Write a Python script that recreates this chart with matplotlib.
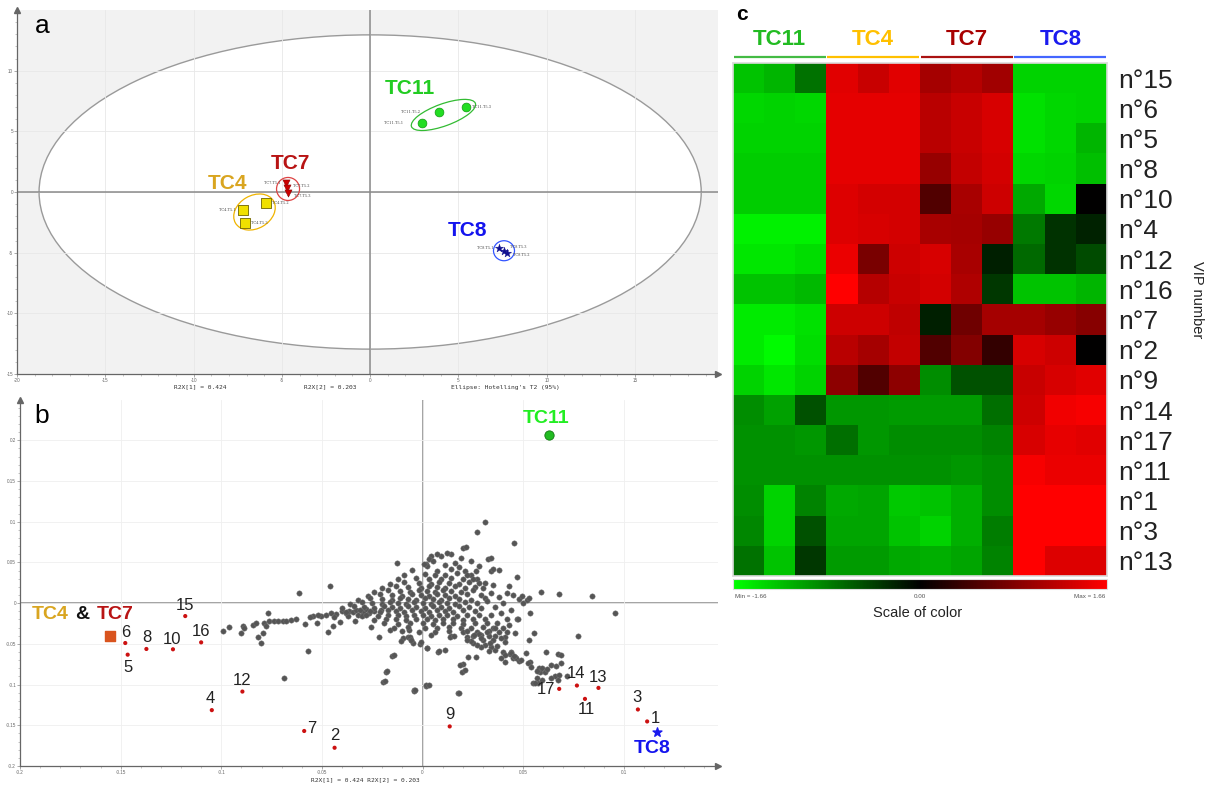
import numpy as np
import matplotlib
matplotlib.use("Agg")
import matplotlib.pyplot as plt
import matplotlib.transforms as mtransforms
from matplotlib.patches import Ellipse
from matplotlib.colors import LinearSegmentedColormap, Normalize
from matplotlib.cm import ScalarMappable

plt.rcParams['font.family'] = ['Liberation Sans', 'DejaVu Sans']

W, H = 1212, 787

# ---------------- panel a : PCA scores ----------------
tc11_x = [2.95, 3.90, 5.45]
tc11_y = [5.71, 6.60, 6.98]
tc4_x = [-7.20, -5.87, -7.09]
tc4_y = [-1.48, -0.93, -2.53]
tc7_x = [-4.76, -4.70, -4.63]
tc7_y = [0.71, 0.30, -0.11]
tc8_x = [7.30, 7.58, 7.76]
tc8_y = [-4.64, -4.84, -5.00]
tc11_names = ['TC11.T5.1', 'TC11.T5.2', 'TC11.T5.3']
tc4_names = ['TC4.T5.1', 'TC4.T5.2', 'TC4.T5.3']
tc7_names = ['TC7.T5.1', 'TC7.T5.2', 'TC7.T5.3']
tc8_names = ['TC8.T5.1', 'TC8.T5.3', 'TC8.T5.2']
hotelling_rx, hotelling_ry = 18.75, 12.95

# ---------------- panel b : loadings ----------------
vip_ids = list(range(1, 18))
vip_x = [0.1116, -0.0437, 0.1070, -0.1047, -0.1465, -0.1477, -0.0588, -0.1372, 0.0135,
         -0.1240, 0.0807, -0.0895, 0.0874, 0.0767, -0.1179, -0.1100, 0.0679]
vip_y = [-0.1453, -0.1776, -0.1306, -0.1314, -0.0633, -0.0490, -0.1570, -0.0563, -0.1514,
         -0.0567, -0.1176, -0.1086, -0.1041, -0.1012, -0.0159, -0.0482, -0.1053]
grp_tc11_b = (0.0628, 0.207)
grp_tc8_b = (0.1165, -0.158)
grp_tc47_b = (-0.1553, -0.0408)

cloud_xy = [
    # left arm
    (-0.0993, -0.0340), (-0.0964, -0.0299), (-0.0902, -0.0365), (-0.0894, -0.0283), (-0.0886, -0.0311),
    (-0.0844, -0.0270), (-0.0827, -0.0250), (-0.0819, -0.0414), (-0.0803, -0.0495), (-0.0794, -0.0365),
    (-0.0786, -0.0250), (-0.0778, -0.0283), (-0.0770, -0.0127), (-0.0761, -0.0221), (-0.0736, -0.0221),
    (-0.0720, -0.0221), (-0.0695, -0.0221), (-0.0678, -0.0221), (-0.0653, -0.0209), (-0.0628, -0.0201),
    (-0.0612, 0.0127), (-0.0582, -0.0262), (-0.0571, -0.0590), (-0.0546, -0.0160), (-0.0524, -0.0242),
    (-0.0504, -0.0160), (-0.0479, -0.0147), (-0.0469, -0.0352), (-0.0446, -0.0283), (-0.0429, -0.0135),
    (-0.0410, -0.0229), (-0.0380, -0.0127), (-0.0363, -0.0094), (-0.0347, -0.0106), (-0.0338, -0.0217),
    (-0.0330, -0.0086), (-0.0297, -0.0106), (-0.0255, -0.0291), (-0.0239, -0.0094), (-0.0214, -0.0414),
    (-0.0206, -0.0086), (-0.0164, -0.0332), (-0.0151, -0.0647), (-0.0098, -0.0434), (-0.0073, -0.0414),
    (-0.0065, -0.0332), (-0.0056, -0.0455), (-0.0045, -0.0495), (-0.0015, -0.0508), (-0.0007, -0.0475),
    (0.0023, -0.0557), (0.0076, -0.0598), (-0.0184, -0.0844), (-0.0197, -0.0967), (-0.0040, -0.1069),
    (0.0018, -0.1016), (-0.0690, -0.0925), (-0.0458, 0.0216), (-0.0560, -0.0170), (-0.0520, -0.0140),
    (-0.0455, -0.0125), (-0.0400, -0.0100), (-0.0440, -0.0170), (-0.0370, -0.0160), (-0.0320, -0.0140),
    (-0.0280, -0.0070), (-0.0300, -0.0160), (-0.0265, -0.0120), (-0.0128, 0.0490), (0.0016, 0.0480),
    # core
    (0.002, 0.046), (0.011, 0.047), (0.018, 0.044),
    (-0.005, 0.041), (0.007, 0.039), (0.014, 0.042), (0.021, 0.040),
    (-0.009, 0.034), (0.001, 0.036), (0.006, 0.034), (0.011, 0.035), (0.017, 0.037), (0.024, 0.034),
    (-0.012, 0.029), (-0.003, 0.031), (0.003, 0.030), (0.009, 0.029), (0.014, 0.031), (0.020, 0.030), (0.027, 0.029),
    (-0.016, 0.024), (-0.009, 0.026), (-0.002, 0.025), (0.004, 0.024), (0.008, 0.026), (0.013, 0.025),
    (0.018, 0.024), (0.023, 0.026),
    (-0.020, 0.019), (-0.013, 0.021), (-0.007, 0.020), (-0.001, 0.019), (0.003, 0.021), (0.007, 0.020),
    (0.011, 0.019), (0.016, 0.021), (0.021, 0.019), (0.026, 0.020),
    (-0.024, 0.014), (-0.017, 0.016), (-0.011, 0.015), (-0.006, 0.014), (-0.002, 0.016), (0.002, 0.015),
    (0.006, 0.014), (0.010, 0.016), (0.014, 0.015), (0.019, 0.014), (0.025, 0.016),
    (-0.027, 0.009), (-0.021, 0.011), (-0.015, 0.010), (-0.010, 0.009), (-0.005, 0.011), (-0.001, 0.010),
    (0.003, 0.009), (0.007, 0.011), (0.011, 0.010), (0.016, 0.009), (0.022, 0.011), (0.029, 0.010),
    (-0.032, 0.004), (-0.026, 0.006), (-0.020, 0.005), (-0.015, 0.004), (-0.011, 0.006), (-0.007, 0.005),
    (-0.003, 0.004), (0.001, 0.006), (0.005, 0.005), (0.009, 0.004), (0.013, 0.006), (0.018, 0.005),
    (0.024, 0.004), (0.031, 0.006),
    (-0.036, -0.001), (-0.030, 0.001), (-0.025, 0.000), (-0.020, -0.001), (-0.016, 0.001), (-0.012, 0.000),
    (-0.008, -0.001), (-0.004, 0.001), (0.000, 0.000), (0.004, -0.001), (0.008, 0.001), (0.012, 0.000),
    (0.016, -0.001), (0.021, 0.001), (0.027, 0.000),
    (-0.040, -0.006), (-0.034, -0.004), (-0.029, -0.005), (-0.024, -0.006), (-0.019, -0.004), (-0.015, -0.005),
    (-0.011, -0.006), (-0.007, -0.004), (-0.003, -0.005), (0.001, -0.006), (0.005, -0.004), (0.009, -0.005),
    (0.013, -0.006), (0.018, -0.004), (0.023, -0.005), (0.029, -0.006),
    (-0.038, -0.011), (-0.031, -0.009), (-0.026, -0.010), (-0.021, -0.011), (-0.017, -0.009), (-0.013, -0.010),
    (-0.009, -0.011), (-0.005, -0.009), (-0.001, -0.010), (0.003, -0.011), (0.007, -0.009), (0.011, -0.010),
    (0.015, -0.011), (0.020, -0.009), (0.026, -0.010),
    (-0.028, -0.014), (-0.022, -0.016), (-0.017, -0.015), (-0.012, -0.014), (-0.008, -0.016), (-0.004, -0.015),
    (0.000, -0.014), (0.004, -0.016), (0.008, -0.015), (0.012, -0.014), (0.017, -0.016), (0.022, -0.015),
    (0.028, -0.014),
    (-0.024, -0.021), (-0.018, -0.019), (-0.013, -0.020), (-0.008, -0.021), (-0.003, -0.019), (0.002, -0.020),
    (0.006, -0.021), (0.010, -0.019), (0.015, -0.020), (0.020, -0.021), (0.025, -0.019), (0.031, -0.020),
    (-0.019, -0.024), (-0.012, -0.026), (-0.006, -0.025), (0.000, -0.024), (0.005, -0.026), (0.010, -0.025),
    (0.015, -0.024), (0.020, -0.026), (0.026, -0.025), (0.032, -0.024),
    (-0.014, -0.031), (-0.007, -0.029), (0.001, -0.030), (0.007, -0.031), (0.013, -0.029), (0.019, -0.030),
    (0.024, -0.031), (0.030, -0.029), (0.035, -0.030),
    (-0.010, -0.034), (-0.002, -0.036), (0.006, -0.035), (0.013, -0.034), (0.020, -0.036), (0.027, -0.035),
    (0.033, -0.034), (0.038, -0.036),
    (-0.006, -0.041), (0.004, -0.039), (0.014, -0.040), (0.022, -0.041), (0.029, -0.039), (0.036, -0.040),
    (0.041, -0.041),
    # upper right fan
    (0.0308, 0.0999), (0.0272, 0.0868), (0.0453, 0.0733), (0.0200, 0.0680), (0.0140, 0.0600), (0.0120, 0.0610),
    (0.0090, 0.0580), (0.0070, 0.0600), (0.0040, 0.0580), (0.0030, 0.0540), (0.0050, 0.0520), (0.0326, 0.0540),
    (0.0005, 0.0478), (0.0267, 0.0397), (0.0340, 0.0400), (0.0350, 0.0420), (0.0380, 0.0410), (0.0469, 0.0315),
    (0.0430, 0.0209), (0.0310, 0.0250), (0.0350, 0.0220), (0.0300, 0.0180), (0.0590, 0.0131), (0.0678, 0.0110),
    (0.0840, 0.0086), (0.0955, -0.0127), (0.0480, 0.0050), (0.0520, 0.0040), (0.0500, 0.0000), (0.0536, -0.0127),
    (0.0216, 0.0690), (0.0342, 0.0550), (0.0495, 0.0082), (0.0528, 0.0060), (0.0280, 0.0450), (0.0240, 0.0520),
    (0.0190, 0.0550), (0.0160, 0.0490), (0.0220, 0.0350), (0.0280, 0.0250), (0.0250, 0.0300), (0.0420, 0.0130),
    (0.0450, 0.0100), (0.0340, 0.0120), (0.0380, 0.0080), (0.0400, 0.0000), (0.0320, 0.0030), (0.0360, -0.0050),
    # lower right arm
    (0.0470, -0.0190), (0.0475, -0.0200), (0.0420, -0.0200), (0.0430, -0.0265), (0.0460, -0.0366), (0.0552, -0.0366),
    (0.0530, -0.0455), (0.0773, -0.0405), (0.0612, -0.0598), (0.0674, -0.0625), (0.0640, -0.0756), (0.0690, -0.0737),
    (0.0578, -0.0800), (0.0583, -0.0840), (0.0660, -0.0900), (0.0680, -0.0880), (0.0550, -0.0977), (0.0575, -0.0977),
    (0.0440, -0.0600), (0.0437, -0.0630), (0.0400, -0.0600), (0.0410, -0.0640), (0.0390, -0.0680), (0.0410, -0.0720),
    (0.0450, -0.0680), (0.0460, -0.0660), (0.0360, -0.0570), (0.0340, -0.0540), (0.0310, -0.0520), (0.0330, -0.0590),
    (0.0290, -0.0540), (0.0270, -0.0520), (0.0250, -0.0490), (0.0240, -0.0470), (0.0220, -0.0450), (0.0225, -0.0660),
    (0.0265, -0.0660), (0.0200, -0.0745), (0.0197, -0.0850), (0.0080, -0.0590), (0.0110, -0.0580), (0.0020, -0.0550),
    (0.0018, -0.1007), (-0.0040, -0.1077), (0.0176, -0.1100), (0.0138, -0.0420), (0.0155, -0.0400), (0.0250, -0.0400),
    (0.0280, -0.0380), (0.0330, -0.0400), (0.0350, -0.0450), (0.0390, -0.0430), (0.0410, -0.0480), (0.0300, -0.0450),
    (0.0320, -0.0350), (0.0360, -0.0310), (0.0400, -0.0300), (0.0420, -0.0360), (0.0370, -0.0250), (0.0340, -0.0150),
    (0.0390, -0.0120), (0.0440, -0.0080), (0.0570, -0.0837), (0.0593, -0.0796), (0.0640, -0.0918), (0.0663, -0.0767),
    (0.0686, -0.0633), (0.0720, -0.0898), (0.0558, -0.0980), (0.0570, -0.0918), (0.0593, -0.0939), (0.0674, -0.0939),
    (0.0186, -0.0755), (0.0209, -0.0816), (-0.0035, -0.1070), (0.0030, -0.1000), (0.0181, -0.1100), (-0.0186, -0.0960),
    (-0.0179, -0.0837), (-0.0140, -0.0640), (-0.0105, -0.0470), (-0.0058, -0.0450), (0.0372, -0.0530), (0.0442, -0.0610),
    (0.0465, -0.0670), (0.0512, -0.0610), (0.0535, -0.0727), (0.0337, -0.0490), (0.0290, -0.0430), (0.0256, -0.0388),
    (0.0221, -0.0347), (0.0477, -0.0714), (0.0523, -0.0735), (0.0453, -0.0650), (0.0490, -0.0700), (0.0540, -0.0780),
    (0.0610, -0.0850), (0.0620, -0.0810),
]

# ---------------- panel c : heatmap ----------------
groups = ['TC11', 'TC4', 'TC7', 'TC8']
vip_rows = ['n°15', 'n°6', 'n°5', 'n°8', 'n°10', 'n°4', 'n°12', 'n°16', 'n°7', 'n°2',
            'n°9', 'n°14', 'n°17', 'n°11', 'n°1', 'n°3', 'n°13']
heat = np.array([
    [-1.27, -1.17, -0.75, 1.46, 1.30, 1.46, 1.07, 1.17, 1.04, -1.37, -1.37, -1.37],
    [-1.40, -1.37, -1.40, 1.48, 1.48, 1.48, 1.20, 1.30, 1.40, -1.46, -1.40, -1.37],
    [-1.37, -1.37, -1.37, 1.48, 1.48, 1.48, 1.20, 1.30, 1.40, -1.46, -1.40, -1.17],
    [-1.33, -1.33, -1.33, 1.48, 1.48, 1.48, 0.98, 1.27, 1.37, -1.40, -1.37, -1.24],
    [-1.33, -1.33, -1.33, 1.43, 1.37, 1.37, 0.52, 1.10, 1.33, -1.10, -1.40, 0.00],
    [-1.56, -1.56, -1.56, 1.43, 1.40, 1.37, 1.10, 1.07, 0.98, -0.78, -0.33, -0.23],
    [-1.50, -1.50, -1.43, 1.53, 0.78, 1.33, 1.40, 1.10, -0.20, -0.68, -0.33, -0.49],
    [-1.27, -1.27, -1.20, 1.66, 1.17, 1.30, 1.37, 1.14, -0.36, -1.27, -1.27, -1.17],
    [-1.53, -1.53, -1.46, 1.33, 1.33, 1.24, -0.20, 0.72, 1.07, 1.07, 0.98, 0.88],
    [-1.53, -1.63, -1.43, 1.20, 1.07, 1.27, 0.52, 0.85, 0.33, 1.40, 1.33, 0.00],
    [-1.37, -1.50, -1.37, 0.91, 0.52, 0.91, -0.91, -0.52, -0.52, 1.30, 1.40, 1.46],
    [-0.91, -1.04, -0.52, -0.98, -0.98, -1.01, -1.00, -1.00, -0.72, 1.33, 1.56, 1.60],
    [-0.94, -0.94, -0.98, -0.72, -0.98, -0.91, -0.91, -0.91, -0.85, 1.40, 1.50, 1.46],
    [-0.94, -0.94, -0.94, -0.94, -0.94, -0.94, -0.94, -0.98, -0.91, 1.60, 1.53, 1.53],
    [-0.91, -1.37, -0.85, -1.10, -1.07, -1.30, -1.27, -1.14, -0.91, 1.66, 1.66, 1.66],
    [-0.88, -1.37, -0.52, -1.07, -1.07, -1.27, -1.37, -1.14, -0.81, 1.66, 1.66, 1.66],
    [-0.75, -1.27, -0.36, -1.01, -1.01, -1.10, -1.14, -1.07, -0.85, 1.66, 1.43, 1.43],
])
vmin, vmax = -1.66, 1.66


def fx(px):
    return px / W


def fy(py):
    return 1 - py / H


fig = plt.figure(figsize=(W / 100, H / 100), dpi=100)


def style_axes(ax, xt, yt, xfmt, yfmt):
    for s in ['top', 'right']:
        ax.spines[s].set_visible(False)
    for s in ['left', 'bottom']:
        ax.spines[s].set_color('#666666')
        ax.spines[s].set_linewidth(0.9)
    ax.set_xticks(xt)
    ax.set_yticks(yt)
    ax.set_xticklabels([xfmt(v) for v in xt])
    ax.set_yticklabels([yfmt(v) for v in yt])
    ax.tick_params(labelsize=3.3, labelcolor='#666666', color='#888888', length=2, width=0.5, pad=0.8)
    ax.minorticks_on()
    ax.tick_params(which='minor', length=1.2, width=0.4, color='#999999')
    ax.plot(1, 0, marker='>', ms=4, color='#666666', transform=ax.transAxes, clip_on=False)
    ax.plot(0, 1, marker='^', ms=4, color='#666666', transform=ax.transAxes, clip_on=False)


def ring(ax, x, y, w, h, ang, col):
    tr = fig.dpi_scale_trans + mtransforms.ScaledTranslation(x, y, ax.transData)
    ax.add_patch(Ellipse((0, 0), w, h, angle=ang, fill=False, ec=col, lw=0.9, transform=tr, zorder=3))


# ---------- a ----------
ax_a = fig.add_axes([fx(17), fy(374), fx(718 - 17), (374 - 10) / H])
ax_a.set_xlim(-20, 19.7)
ax_a.set_ylim(-15, 15)
ax_a.set_facecolor('#f2f2f2')
ax_a.set_axisbelow('line')
ax_a.add_patch(Ellipse((0, 0), 2 * hotelling_rx, 2 * hotelling_ry, fc='white', ec='#9a9a9a', lw=1.0, zorder=1))
ax_a.grid(True, which='major', color='#e8e8e8', lw=0.6)
ax_a.axhline(0, color='#8a8a8a', lw=1.1, zorder=2)
ax_a.axvline(0, color='#8a8a8a', lw=1.1, zorder=2)
style_axes(ax_a, [-20, -15, -10, -5, 0, 5, 10, 15], [-15, -10, -5, 0, 5, 10],
           lambda v: str(v), lambda v: str(v))

ax_a.scatter(tc11_x, tc11_y, s=40, c='#22dd22', edgecolors='#119911', lw=0.5, zorder=4)
ax_a.scatter(tc4_x, tc4_y, s=42, marker='s', c='#f0e000', edgecolors='#6d6200', lw=0.6, zorder=4)
ax_a.scatter(tc7_x, tc7_y, s=26, marker='v', c='#cc0000', edgecolors='#880000', lw=0.4, zorder=4)
ax_a.scatter(tc8_x, tc8_y, s=38, marker='*', c='#101090', edgecolors='#101090', lw=0.3, zorder=4)

ring(ax_a, 4.15, 6.35, 0.68, 0.22, 20, '#33bb33')
ring(ax_a, -6.55, -1.65, 0.44, 0.33, 30, '#f0b400')
ring(ax_a, -4.65, 0.25, 0.23, 0.23, 0, '#dd4444')
ring(ax_a, 7.58, -4.84, 0.21, 0.2, 0, '#3355ff')

name_off = {
    'TC11': [(-14, 0, 'right'), (-14, 0, 'right'), (4, 0, 'left')],
    'TC4': [(-5, 0, 'right'), (4, 0, 'left'), (4, 0, 'left')],
    'TC7': [(-4, 0, 'right'), (4, 2, 'left'), (4, -2, 'left')],
    'TC8': [(-4, 0, 'right'), (4, 3, 'left'), (4, -2, 'left')],
}
for key, xs, ys, names in [('TC11', tc11_x, tc11_y, tc11_names), ('TC4', tc4_x, tc4_y, tc4_names),
                           ('TC7', tc7_x, tc7_y, tc7_names), ('TC8', tc8_x, tc8_y, tc8_names)]:
    for (dx, dy, ha), x, y, nm in zip(name_off[key], xs, ys, names):
        ax_a.annotate(nm, (x, y), xytext=(dx, dy), textcoords='offset points', ha=ha, va='center',
                      fontsize=2.6, color='#444444', family='DejaVu Serif', zorder=5)

big = dict(fontsize=15, fontweight='bold', ha='center', va='center', zorder=6)
ax_a.text(2.27, 8.5, 'TC11', color='#22cc22', **big)
ax_a.text(-4.5, 2.36, 'TC7', color='#b81414', **big)
ax_a.text(-8.1, 0.7, 'TC4', color='#d9a520', **big)
ax_a.text(5.5, -3.15, 'TC8', color='#1414ee', **big)
fig.text(fx(42), fy(26), 'a', fontsize=19, ha='center', va='center')

mono = dict(fontsize=4.5, family='DejaVu Sans Mono', color='#333333', ha='center', va='center')
fig.text(fx(200), fy(387), 'R2X[1] = 0.424', **mono)
fig.text(fx(330), fy(387), 'R2X[2] = 0.203', **mono)
fig.text(fx(505), fy(387), "Ellipse: Hotelling's T2 (95%)", **mono)

# ---------- b ----------
ax_b = fig.add_axes([fx(20), fy(766), fx(718 - 20), (766 - 400) / H])
ax_b.set_xlim(-0.2, 0.1468)
ax_b.set_ylim(-0.2, 0.2494)
ax_b.set_facecolor('white')
ax_b.grid(True, which='major', color='#efefef', lw=0.6)
ax_b.axhline(0, color='#8a8a8a', lw=1.1, zorder=1)
ax_b.axvline(0, color='#8a8a8a', lw=1.1, zorder=1)
style_axes(ax_b, [-0.2, -0.15, -0.1, -0.05, 0, 0.05, 0.1], [-0.2, -0.15, -0.1, -0.05, 0, 0.05, 0.1, 0.15, 0.2],
           lambda v: f'{v:g}', lambda v: f'{v:g}')

cx = [p[0] for p in cloud_xy]
cy = [p[1] for p in cloud_xy]
ax_b.scatter(cx, cy, s=15, c='#555555', edgecolors='#777777', lw=0.3, zorder=3)
ax_b.scatter(vip_x, vip_y, s=9, c='#cc1111', edgecolors='none', zorder=4)

lab_off = {1: (8, 3), 2: (0, 12), 3: (-1, 12), 4: (-2, 12), 5: (0, -13), 6: (0, 11), 7: (8, 2),
           8: (0, 11), 9: (0, 12), 10: (-1, 10), 11: (1, -11), 12: (0, 11), 13: (0, 10), 14: (-1, 12),
           15: (0, 11), 16: (0, 11), 17: (-13, -1)}
for i, x, y in zip(vip_ids, vip_x, vip_y):
    dx, dy = lab_off[i]
    ax_b.annotate(str(i), (x, y), xytext=(dx * 0.72, dy * 0.72), textcoords='offset points',
                  ha='center', va='center', fontsize=12, color='#222222', zorder=5)

ax_b.scatter([grp_tc11_b[0]], [grp_tc11_b[1]], s=45, c='#22bb22', edgecolors='#117711', lw=0.6, zorder=5)
ax_b.scatter([grp_tc8_b[0]], [grp_tc8_b[1]], s=45, marker='*', c='#1a1aee', zorder=5)
ax_b.scatter([grp_tc47_b[0]], [grp_tc47_b[1]], s=50, marker='s', c='#d9541e', zorder=5)
big_b = dict(fontsize=14, fontweight='bold', ha='center', va='center', zorder=6)
ax_b.text(0.0612, 0.227, 'TC11', color='#22ee22', **big_b)
ax_b.text(0.114, -0.178, 'TC8', color='#1414ee', **big_b)
ax_b.text(-0.1851, -0.0135, 'TC4', color='#d9a520', **big_b)
ax_b.text(-0.1692, -0.0135, '&', color='#111111', **big_b)
ax_b.text(-0.1527, -0.0135, 'TC7', color='#b81414', **big_b)
fig.text(fx(42), fy(416), 'b', fontsize=19, ha='center', va='center')
fig.text(fx(365), fy(780), 'R2X[1] = 0.424 R2X[2] = 0.203', **mono)

# ---------- c ----------
cmap = LinearSegmentedColormap.from_list('gkr', ['#00ff00', '#000000', '#ff0000'])
norm = Normalize(vmin=vmin, vmax=vmax)
ax_c = fig.add_axes([fx(733), fy(576), fx(374), 513 / H])
ax_c.imshow(heat, cmap=cmap, norm=norm, aspect='auto', interpolation='nearest')
for s in ax_c.spines.values():
    s.set_color('#dcdcdc')
    s.set_linewidth(1.2)
ax_c.set_xticks([])
ax_c.yaxis.tick_right()
ax_c.set_yticks(range(len(vip_rows)))
ax_c.set_yticklabels(vip_rows, fontsize=19, color='#222222')
ax_c.tick_params(axis='y', length=0, pad=8)

grp_cols = ['#22bb22', '#ffc000', '#a80000', '#1a1aee']
grp_line = ['#44bb44', '#ffc000', '#aa1111', '#4466ff']
btr = mtransforms.blended_transform_factory(ax_c.transData, ax_c.transAxes)
for i, (g, c, lc) in enumerate(zip(groups, grp_cols, grp_line)):
    ax_c.text(3 * i + 1, 1.045, g, transform=btr, ha='center', va='center', fontsize=16,
              fontweight='bold', color=c)
    ax_c.plot([3 * i - 0.47, 3 * i + 2.47], [1.0125, 1.0125], transform=btr, color=lc, lw=1.6,
              clip_on=False, solid_capstyle='butt')
fig.text(fx(742), fy(15), 'c', fontsize=15, fontweight='bold', ha='center', va='center')
fig.text(fx(1197), fy(300), 'VIP number', rotation=270, fontsize=10.5, ha='center', va='center',
         color='#222222')

ax_cb = fig.add_axes([fx(733), fy(589), fx(374), 10 / H])
cb = fig.colorbar(ScalarMappable(norm=norm, cmap=cmap), cax=ax_cb, orientation='horizontal')
cb.set_ticks([])
cb.outline.set_edgecolor('#dddddd')
small = dict(fontsize=4.5, color='#555555', va='center')
fig.text(fx(735), fy(597), 'Min = -1.66', ha='left', **small)
fig.text(fx(920), fy(597), '0.00', ha='center', **small)
fig.text(fx(1105), fy(597), 'Max = 1.66', ha='right', **small)
fig.text(fx(918), fy(613), 'Scale of color', fontsize=10.5, ha='center', va='center', color='#222222')

fig.savefig('out.png', dpi=100)
